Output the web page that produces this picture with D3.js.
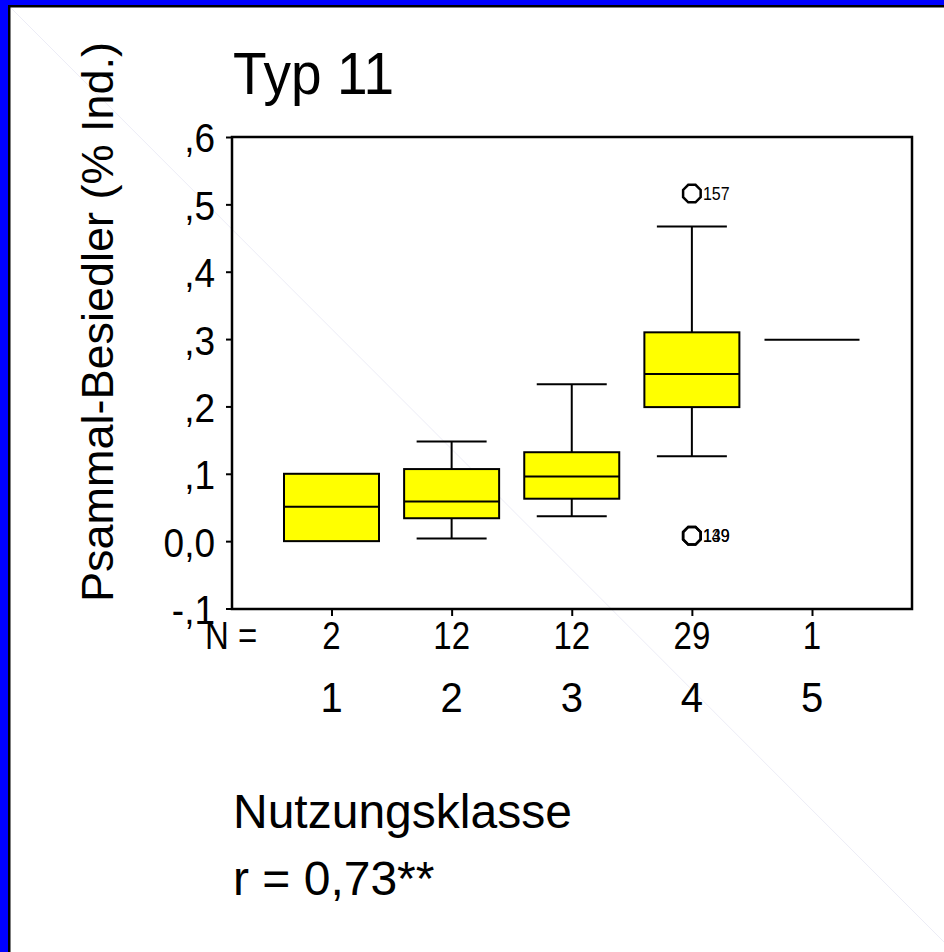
<!DOCTYPE html>
<html>
<head>
<meta charset="utf-8">
<script src="https://cdn.jsdelivr.net/npm/d3@7"></script>
<style>
  html, body { margin: 0; padding: 0; background: #fff; }
  svg { display: block; }
  text { font-family: "Liberation Sans", Arial, Helvetica, sans-serif; fill: #000; }
</style>
</head>
<body>
<script>
// ---------- data ----------
const categories = ["1", "2", "3", "4", "5"];
const nCounts = [2, 12, 12, 29, 1];
const q1 = [0.000, 0.034, 0.063, 0.199, 0.299];
const medians = [0.051, 0.059, 0.096, 0.248, 0.299];
const q3 = [0.100, 0.107, 0.132, 0.310, 0.299];
const whiskerLow = [0.000, 0.004, 0.037, 0.126, 0.299];
const whiskerHigh = [0.100, 0.148, 0.233, 0.467, 0.299];
const outlierCats = ["4", "4", "4"];
const outlierValues = [0.516, 0.008, 0.008];
const outlierLabels = ["157", "139", "149"];
const yTickValues = [-0.1, 0.0, 0.1, 0.2, 0.3, 0.4, 0.5, 0.6];
const yTickLabels = ["-,1", "0,0", ",1", ",2", ",3", ",4", ",5", ",6"];
const titleText = "Typ 11";
const yTitle = "Psammal-Besiedler (% Ind.)";
const xTitle = "Nutzungsklasse";
const noteText = "r = 0,73**";

// ---------- layout ----------
const W = 944, H = 952;
const frame = { left: 232, right: 912, top: 137, bottom: 609 };
const boxW = 95, capW = 70;

const svg = d3.select("body").append("svg").attr("width", W).attr("height", H);

// helper: text with slight vertical stretch (as in the stretched original)
function stretchedText(parent, x0, y0, size, sy, str, anchor) {
  return parent.append("text")
    .attr("transform", `translate(${x0},${y0}) scale(1,${sy})`)
    .attr("text-anchor", anchor || "start")
    .style("font-size", size + "px")
    .text(str);
}

// background + blue/black slide edge (top & left)
svg.append("rect").attr("width", W).attr("height", H).attr("fill", "#fff");
svg.append("rect").attr("x", 0).attr("y", 0).attr("width", W).attr("height", 5).attr("fill", "#0000ff");
svg.append("rect").attr("x", 0).attr("y", 0).attr("width", 8).attr("height", H).attr("fill", "#0000ff");
svg.append("rect").attr("x", 8).attr("y", 5).attr("width", W - 8).attr("height", 2.5).attr("fill", "#000");
svg.append("rect").attr("x", 8).attr("y", 5).attr("width", 2.5).attr("height", H - 5).attr("fill", "#000");

// faint watermark diagonal
svg.append("line").attr("x1", 11).attr("y1", 8).attr("x2", 944).attr("y2", 942)
  .attr("stroke", "#ececf6").attr("stroke-width", 1);

// scales
const y = d3.scaleLinear().domain([-0.1, 0.6]).range([frame.bottom - 0.5, frame.top]);
const x = d3.scalePoint().domain(categories).range([331.5, 812]);

// plot frame
svg.append("rect")
  .attr("x", frame.left).attr("y", frame.top)
  .attr("width", frame.right - frame.left).attr("height", frame.bottom - frame.top)
  .attr("fill", "none").attr("stroke", "#000").attr("stroke-width", 2.5);

// y axis ticks
const yAxis = d3.axisLeft(y).tickValues(yTickValues).tickSize(6)
  .tickFormat((d, i) => yTickLabels[i]);
const gy = svg.append("g").attr("transform", `translate(${frame.left},0)`).call(yAxis);
gy.select(".domain").remove();
gy.selectAll(".tick line").attr("stroke", "#000").attr("stroke-width", 2);
gy.selectAll(".tick text")
  .attr("x", -17).attr("dy", "0.36em")
  .attr("transform", "scale(1,1.12)")
  .style("font-size", "37px").style("font-family", "Liberation Sans, Arial, sans-serif");

// x axis ticks (bottom)
const xAxis = d3.axisBottom(x).tickSize(7).tickFormat(() => "");
const gx = svg.append("g").attr("transform", `translate(0,${frame.bottom})`).call(xAxis);
gx.select(".domain").remove();
gx.selectAll(".tick line").attr("stroke", "#000").attr("stroke-width", 2);

// N row
stretchedText(svg, 205, 649, 33, 1.15, "N =");
categories.forEach((c, i) => stretchedText(svg, x(c), 649, 33, 1.15, String(nCounts[i]), "middle"));

// category labels
categories.forEach(c => stretchedText(svg, x(c), 712, 40, 1.08, c, "middle"));

// boxes
const g = svg.append("g");
categories.forEach((c, i) => {
  const cx = x(c);
  const single = nCounts[i] === 1;
  if (single) {
    g.append("line").attr("x1", cx - boxW / 2).attr("x2", cx + boxW / 2)
      .attr("y1", y(medians[i])).attr("y2", y(medians[i]))
      .attr("stroke", "#000").attr("stroke-width", 2);
    return;
  }
  if (whiskerHigh[i] > q3[i]) {
    g.append("line").attr("x1", cx).attr("x2", cx)
      .attr("y1", y(q3[i])).attr("y2", y(whiskerHigh[i]))
      .attr("stroke", "#000").attr("stroke-width", 2);
    g.append("line").attr("x1", cx - capW / 2).attr("x2", cx + capW / 2)
      .attr("y1", y(whiskerHigh[i])).attr("y2", y(whiskerHigh[i]))
      .attr("stroke", "#000").attr("stroke-width", 2);
  }
  if (whiskerLow[i] < q1[i]) {
    g.append("line").attr("x1", cx).attr("x2", cx)
      .attr("y1", y(q1[i])).attr("y2", y(whiskerLow[i]))
      .attr("stroke", "#000").attr("stroke-width", 2);
    g.append("line").attr("x1", cx - capW / 2).attr("x2", cx + capW / 2)
      .attr("y1", y(whiskerLow[i])).attr("y2", y(whiskerLow[i]))
      .attr("stroke", "#000").attr("stroke-width", 2);
  }
  g.append("rect")
    .attr("x", cx - boxW / 2).attr("width", boxW)
    .attr("y", y(q3[i])).attr("height", y(q1[i]) - y(q3[i]))
    .attr("fill", "#ffff00").attr("stroke", "#000").attr("stroke-width", 2);
  g.append("line").attr("x1", cx - boxW / 2).attr("x2", cx + boxW / 2)
    .attr("y1", y(medians[i])).attr("y2", y(medians[i]))
    .attr("stroke", "#000").attr("stroke-width", 2);
});

// outliers (octagon-like circles)
const octagon = d3.symbol().type({
  draw(ctx, size) {
    const r = Math.sqrt(size / Math.PI);
    for (let k = 0; k < 8; k++) {
      const a = Math.PI / 8 + k * Math.PI / 4;
      const px = r * Math.cos(a), py = r * Math.sin(a);
      if (k === 0) ctx.moveTo(px, py); else ctx.lineTo(px, py);
    }
    ctx.closePath();
  }
}).size(Math.PI * 9.5 * 9.5);
outlierValues.forEach((v, i) => {
  const cx = x(outlierCats[i]);
  g.append("path").attr("d", octagon)
    .attr("transform", `translate(${cx},${y(v)})`)
    .attr("fill", "none").attr("stroke", "#000").attr("stroke-width", 2.5);
  stretchedText(g, cx + 11, y(v) + 6, 16, 1.1, outlierLabels[i]);
});

// titles
stretchedText(svg, 233, 94, 55, 1.08, titleText);
svg.append("text")
  .attr("transform", "translate(113,322) rotate(-90)")
  .attr("text-anchor", "middle").style("font-size", "45px").text(yTitle);
svg.append("text").attr("x", 233).attr("y", 828).style("font-size", "48px").text(xTitle);
svg.append("text").attr("x", 233).attr("y", 895).style("font-size", "48px").text(noteText);
</script>
</body>
</html>
